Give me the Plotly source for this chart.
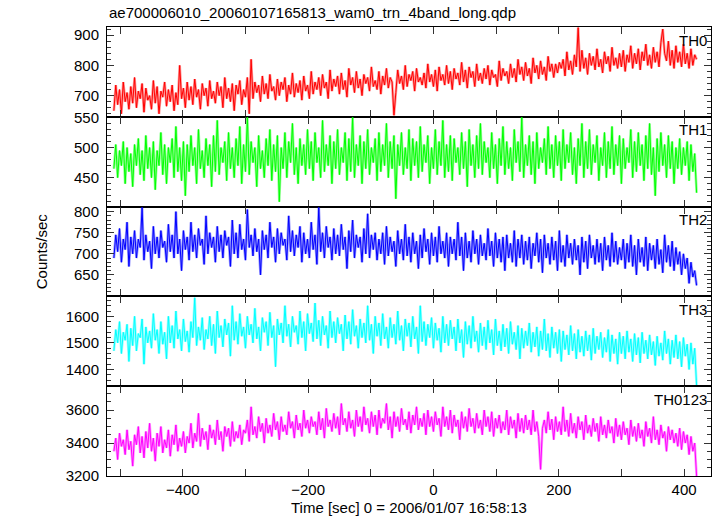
import numpy as np
import plotly.graph_objects as go
from plotly.subplots import make_subplots

t_start = -510
t_step = 3

th0 = [650, 735, 670, 720, 640, 745, 680, 710, 655, 730,
       675, 760, 660, 715, 690, 740, 645, 725, 685, 700,
       655, 750, 675, 730, 640, 715, 695, 745, 665, 720,
       680, 735, 650, 710, 670, 800, 690, 725, 660, 745,
       685, 730, 670, 755, 695, 720, 655, 740, 700, 725,
       665, 750, 690, 715, 675, 745, 700, 730, 660, 760,
       690, 725, 680, 740, 650, 735, 705, 750, 670, 720,
       695, 760, 640, 820, 690, 745, 710, 735, 680, 765,
       705, 740, 690, 770, 715, 730, 685, 755, 700, 745,
       720, 760, 680, 735, 705, 775, 695, 740, 710, 750,
       685, 765, 715, 735, 690, 780, 705, 745, 720, 760,
       700, 770, 725, 745, 690, 785, 715, 755, 730, 765,
       705, 775, 720, 750, 695, 790, 735, 760, 710, 780,
       725, 755, 700, 770, 740, 760, 715, 795, 730, 750,
       720, 780, 705, 765, 735, 790, 725, 760, 745, 635,
       710, 785, 740, 765, 720, 800, 730, 770, 750, 780,
       715, 790, 745, 760, 735, 775, 725, 805, 745, 770,
       730, 785, 715, 795, 750, 770, 735, 800, 740, 780,
       720, 790, 755, 775, 735, 810, 745, 785, 725, 795,
       760, 780, 730, 805, 750, 775, 740, 790, 755, 800,
       735, 785, 760, 770, 730, 815, 750, 790, 765, 780,
       740, 805, 760, 790, 745, 820, 770, 795, 750, 810,
       765, 790, 740, 825, 775, 800, 755, 815, 770, 795,
       750, 830, 780, 805, 760, 805, 775, 810, 790, 820,
       765, 845, 785, 815, 770, 835, 795, 925, 780, 850,
       790, 825, 770, 840, 800, 830, 785, 855, 795, 820,
       775, 845, 805, 830, 780, 860, 800, 825, 790, 840,
       795, 850, 780, 835, 810, 865, 790, 840, 805, 855,
       785, 845, 815, 870, 800, 835, 790, 860, 810, 845,
       795, 875, 920, 840, 815, 880, 800, 850, 790, 865,
       810, 845, 795, 870, 805, 840, 790, 855, 800, 835,
       820]

th1 = [465, 505, 450, 495, 470, 510, 440, 500, 460, 490,
       435, 505, 470, 515, 455, 495, 445, 520, 465, 500,
       450, 510, 430, 495, 470, 525, 455, 505, 440, 500,
       475, 515, 450, 535, 460, 500, 445, 510, 420, 505,
       460, 520, 470, 500, 440, 530, 465, 495, 450, 515,
       470, 505, 435, 520, 460, 545, 455, 500, 475, 510,
       445, 525, 465, 500, 450, 515, 470, 535, 440, 505,
       460, 550, 455, 510, 475, 500, 435, 520, 465, 495,
       450, 515, 470, 530, 445, 505, 460, 520, 410, 500,
       465, 525, 450, 510, 475, 540, 455, 500, 440, 515,
       470, 505, 455, 530, 465, 510, 445, 525, 475, 500,
       450, 545, 460, 505, 470, 520, 440, 510, 465, 530,
       455, 500, 475, 525, 445, 515, 460, 550, 450, 505,
       470, 520, 440, 510, 465, 530, 455, 500, 475, 515,
       445, 525, 460, 505, 470, 540, 450, 510, 465, 520,
       415, 505, 470, 525, 455, 500, 465, 530, 445, 515,
       470, 510, 450, 535, 460, 505, 475, 520, 440, 500,
       465, 530, 455, 510, 470, 545, 450, 505, 460, 520,
       445, 515, 475, 500, 455, 525, 465, 510, 435, 530,
       470, 505, 450, 520, 465, 540, 455, 510, 475, 500,
       450, 525, 465, 505, 440, 515, 470, 535, 455, 510,
       465, 500, 445, 530, 475, 510, 460, 550, 450, 505,
       470, 520, 455, 510, 440, 525, 465, 500, 475, 515,
       455, 535, 465, 505, 450, 520, 470, 510, 445, 530,
       465, 505, 475, 525, 455, 500, 440, 515, 470, 540,
       450, 510, 465, 530, 455, 505, 475, 520, 445, 500,
       470, 525, 450, 510, 465, 535, 455, 505, 470, 520,
       440, 515, 465, 500, 475, 530, 450, 510, 460, 525,
       470, 505, 445, 520, 465, 540, 455, 500, 420, 515,
       460, 525, 470, 505, 450, 520, 465, 510, 440, 500,
       465, 515, 455, 500, 470, 510, 445, 505, 460, 490,
       425]

th2 = [690, 745, 705, 760, 680, 735, 710, 775, 670, 740,
       700, 755, 690, 735, 715, 810, 685, 745, 705, 730,
       665, 765, 700, 740, 690, 755, 715, 730, 680, 770,
       705, 745, 690, 800, 700, 735, 660, 755, 710, 740,
       685, 775, 705, 745, 690, 760, 720, 735, 675, 790,
       700, 750, 715, 740, 680, 765, 705, 745, 690, 755,
       720, 740, 670, 780, 700, 750, 690, 770, 710, 735,
       685, 805, 715, 745, 695, 760, 705, 735, 650, 755,
       710, 745, 690, 775, 715, 740, 680, 760, 700, 750,
       720, 735, 685, 790, 705, 755, 695, 745, 715, 765,
       680, 750, 700, 735, 690, 775, 710, 745, 675, 810,
       705, 750, 690, 765, 715, 740, 685, 760, 700, 745,
       695, 770, 710, 740, 665, 755, 705, 780, 690, 745,
       715, 740, 680, 760, 700, 795, 690, 745, 710, 750,
       685, 735, 700, 750, 675, 765, 695, 740, 705, 730,
       670, 755, 700, 735, 685, 770, 695, 740, 680, 750,
       700, 730, 665, 745, 690, 760, 705, 735, 675, 750,
       695, 740, 680, 765, 700, 730, 690, 750, 670, 740,
       700, 735, 685, 775, 695, 740, 660, 750, 690, 730,
       680, 755, 700, 735, 675, 745, 695, 725, 685, 760,
       695, 730, 670, 750, 690, 735, 680, 740, 660, 745,
       690, 725, 680, 755, 670, 735, 690, 745, 675, 730,
       685, 740, 665, 725, 695, 750, 680, 735, 655, 745,
       690, 725, 675, 740, 685, 730, 660, 755, 680, 720,
       670, 745, 690, 725, 675, 735, 685, 720, 650, 740,
       680, 730, 665, 745, 690, 720, 675, 735, 680, 725,
       660, 740, 685, 720, 670, 750, 680, 730, 675, 715,
       685, 735, 665, 725, 680, 745, 670, 720, 650, 735,
       680, 715, 670, 740, 660, 725, 685, 720, 665, 735,
       675, 710, 655, 745, 680, 720, 670, 730, 660, 715,
       675, 705, 650, 700, 665, 690, 630, 680, 645, 660,
       625]

th3 = [1470, 1550, 1500, 1580, 1460, 1540, 1510, 1570, 1430, 1555,
       1490, 1600, 1470, 1535, 1520, 1590, 1420, 1560, 1500, 1545,
       1480, 1610, 1510, 1550, 1460, 1580, 1495, 1540, 1440, 1600,
       1500, 1565, 1480, 1620, 1515, 1550, 1470, 1590, 1505, 1545,
       1465, 1580, 1520, 1670, 1490, 1560, 1510, 1595, 1475, 1550,
       1515, 1600, 1490, 1570, 1460, 1620, 1520, 1565, 1485, 1590,
       1530, 1575, 1450, 1640, 1510, 1580, 1495, 1610, 1525, 1560,
       1480, 1600, 1530, 1570, 1500, 1630, 1515, 1560, 1470, 1595,
       1540, 1580, 1490, 1615, 1520, 1565, 1410, 1590, 1530, 1575,
       1500, 1640, 1525, 1570, 1485, 1600, 1540, 1565, 1495, 1620,
       1520, 1580, 1470, 1610, 1535, 1575, 1505, 1650, 1515, 1585,
       1490, 1600, 1530, 1565, 1480, 1620, 1520, 1580, 1500, 1595,
       1535, 1570, 1470, 1605, 1515, 1580, 1495, 1625, 1525, 1565,
       1480, 1590, 1520, 1575, 1500, 1640, 1510, 1570, 1460, 1600,
       1525, 1575, 1490, 1610, 1515, 1560, 1480, 1595, 1520, 1570,
       1495, 1620, 1510, 1565, 1470, 1590, 1525, 1575, 1485, 1600,
       1515, 1560, 1460, 1640, 1505, 1580, 1490, 1570, 1520, 1595,
       1480, 1575, 1510, 1555, 1465, 1600, 1500, 1570, 1490, 1585,
       1515, 1560, 1470, 1590, 1500, 1550, 1445, 1580, 1495, 1565,
       1480, 1600, 1505, 1545, 1465, 1575, 1490, 1560, 1475, 1585,
       1500, 1550, 1455, 1590, 1490, 1545, 1470, 1570, 1485, 1555,
       1460, 1580, 1495, 1540, 1475, 1565, 1440, 1555, 1480, 1545,
       1490, 1575, 1465, 1540, 1485, 1560, 1450, 1545, 1475, 1590,
       1470, 1535, 1445, 1560, 1480, 1540, 1460, 1550, 1430, 1545,
       1475, 1530, 1455, 1565, 1470, 1535, 1440, 1550, 1465, 1525,
       1450, 1545, 1470, 1530, 1435, 1555, 1460, 1525, 1475, 1540,
       1445, 1520, 1465, 1550, 1430, 1530, 1460, 1515, 1420, 1540,
       1460, 1525, 1440, 1545, 1465, 1515, 1430, 1535, 1455, 1520,
       1425, 1540, 1460, 1510, 1440, 1530, 1455, 1505, 1415, 1525,
       1450, 1500, 1435, 1545, 1460, 1515, 1420, 1510, 1445, 1530,
       1440, 1505, 1410, 1520, 1450, 1495, 1400, 1500, 1420, 1480,
       1340]

th0123 = [3350, 3430, 3300, 3460, 3380, 3420, 3330, 3480, 3360, 3410,
          3260, 3450, 3390, 3500, 3340, 3440, 3310, 3470, 3370, 3520,
          3350, 3430, 3290, 3460, 3380, 3500, 3340, 3420, 3370, 3480,
          3320, 3450, 3390, 3510, 3350, 3430, 3380, 3470, 3340, 3440,
          3400, 3520, 3370, 3460, 3410, 3580, 3380, 3490, 3420, 3470,
          3360, 3510, 3430, 3480, 3390, 3540, 3420, 3470, 3350, 3500,
          3440, 3490, 3380, 3530, 3410, 3470, 3430, 3510, 3390, 3480,
          3460, 3540, 3410, 3620, 3450, 3500, 3430, 3560, 3470, 3520,
          3400, 3550, 3460, 3510, 3440, 3580, 3480, 3530, 3420, 3560,
          3470, 3510, 3450, 3590, 3490, 3530, 3430, 3570, 3480, 3520,
          3440, 3600, 3490, 3540, 3460, 3560, 3500, 3530, 3450, 3590,
          3480, 3550, 3430, 3610, 3500, 3540, 3470, 3580, 3490, 3560,
          3450, 3640, 3510, 3550, 3470, 3590, 3490, 3540, 3440, 3600,
          3500, 3560, 3470, 3620, 3510, 3550, 3460, 3590, 3500, 3570,
          3450, 3600, 3490, 3550, 3520, 3640, 3480, 3560, 3430, 3590,
          3500, 3560, 3470, 3610, 3510, 3545, 3480, 3590, 3460, 3570,
          3510, 3620, 3480, 3550, 3500, 3580, 3450, 3600, 3500, 3560,
          3470, 3590, 3510, 3550, 3440, 3620, 3500, 3560, 3480, 3600,
          3460, 3570, 3500, 3540, 3420, 3590, 3490, 3560, 3470, 3610,
          3500, 3550, 3460, 3580, 3490, 3540, 3450, 3600, 3500, 3560,
          3470, 3590, 3440, 3550, 3490, 3570, 3460, 3530, 3480, 3600,
          3450, 3560, 3490, 3540, 3430, 3580, 3470, 3550, 3460, 3570,
          3480, 3540, 3450, 3600, 3470, 3530, 3440, 3240, 3490, 3540,
          3460, 3590, 3480, 3545, 3420, 3560, 3470, 3530, 3450, 3620,
          3470, 3540, 3440, 3580, 3460, 3520, 3430, 3560, 3480, 3530,
          3420, 3570, 3460, 3510, 3440, 3550, 3470, 3520, 3410, 3560,
          3450, 3510, 3430, 3540, 3460, 3500, 3400, 3550, 3440, 3510,
          3420, 3530, 3450, 3490, 3390, 3540, 3440, 3500, 3410, 3520,
          3430, 3480, 3380, 3530, 3440, 3490, 3400, 3560, 3420, 3480,
          3390, 3510, 3430, 3470, 3350, 3500, 3420, 3480, 3400, 3460,
          3380, 3490, 3360, 3470, 3400, 3450, 3330, 3440, 3350, 3400,
          3200]

band_names = ["TH0", "TH1", "TH2", "TH3", "TH0123"]
series = [th0, th1, th2, th3, th0123]
colors = ["#ff0000", "#00ff00", "#0000ff", "#00ffff", "#ff00ff"]
y_ranges = [[630, 927], [402, 551], [599, 812], [1337, 1675], [3200, 3745]]
y_tickvals = [[700, 800, 900], [450, 500, 550], [650, 700, 750, 800],
              [1400, 1500, 1600], [3200, 3400, 3600]]
y_minor = [20, 10, 10, 20, 50]
x_tickvals = [-400, -200, 0, 200, 400]

FONT = "Liberation Sans, Arial, Helvetica, sans-serif"

fig = make_subplots(rows=5, cols=1, shared_xaxes=True, vertical_spacing=0)

for k, (vals, col) in enumerate(zip(series, colors)):
    tt = t_start + t_step * np.arange(len(vals))
    fig.add_trace(go.Scatter(x=tt, y=vals, mode="lines",
                             line=dict(color=col, width=2.6), opacity=0.4,
                             hoverinfo="skip", showlegend=False), row=k + 1, col=1)
    fig.add_trace(go.Scatter(x=tt, y=vals, mode="lines",
                             line=dict(color=col, width=1),
                             showlegend=False, name=band_names[k]), row=k + 1, col=1)
    fig.update_yaxes(range=y_ranges[k], tickvals=y_tickvals[k],
                     ticks="inside", ticklen=7, tickcolor="#333",
                     minor=dict(dtick=y_minor[k], ticks="inside", ticklen=4, tickcolor="#333"),
                     showline=True, linecolor="black", linewidth=1, mirror="ticks",
                     showgrid=False, zeroline=False,
                     tickfont=dict(family=FONT, size=15, color="black"),
                     ticklabelstandoff=4,
                     row=k + 1, col=1)
    fig.update_xaxes(range=[-521, 443], tickvals=x_tickvals,
                     ticks="inside", ticklen=7, tickcolor="#333",
                     minor=dict(dtick=100, ticks="inside", ticklen=7, tickcolor="#333"),
                     showline=True, linecolor="black", linewidth=1, mirror="ticks",
                     showgrid=False, zeroline=False,
                     showticklabels=(k == 4),
                     tickfont=dict(family=FONT, size=15, color="black"),
                     row=k + 1, col=1)
    fig.add_annotation(text=band_names[k], xref="x domain" if k == 0 else f"x{k+1} domain",
                       yref="y domain" if k == 0 else f"y{k+1} domain",
                       x=0.997, y=0.97, xanchor="right", yanchor="top", showarrow=False,
                       font=dict(family=FONT, size=15, color="black"))

fig.add_annotation(text="Counts/sec", xref="paper", yref="paper", x=-0.108, y=0.5,
                   textangle=-90, showarrow=False, xanchor="center", yanchor="middle",
                   font=dict(family=FONT, size=15, color="black"))
fig.add_annotation(text="Time [sec] 0 = 2006/01/07 16:58:13", xref="paper", yref="paper",
                   x=0.5, y=-0.046, yanchor="top", xanchor="center", showarrow=False,
                   font=dict(family=FONT, size=15, color="black"))
fig.add_annotation(text="ae700006010_20060107165813_wam0_trn_4band_long.qdp",
                   xref="paper", yref="paper", x=0.0, y=1.0, yshift=4,
                   xanchor="left", yanchor="bottom", showarrow=False,
                   font=dict(family=FONT, size=15, color="black"))

fig.update_layout(width=717, height=516,
                  margin=dict(l=107, r=6, t=27, b=40),
                  paper_bgcolor="white", plot_bgcolor="white",
                  showlegend=False)

fig.write_html("out.html", config={"displayModeBar": False},
               post_script="document.body.style.margin='0px';")
